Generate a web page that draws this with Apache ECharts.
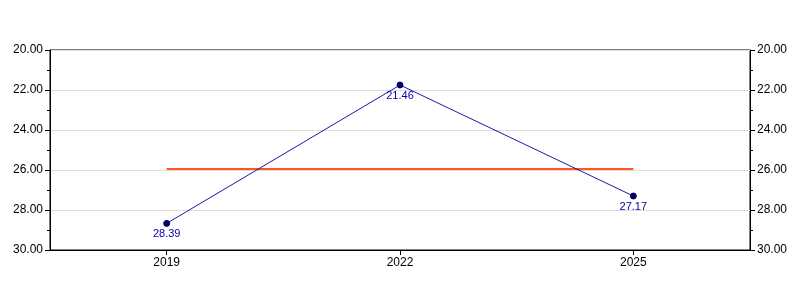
<!DOCTYPE html>
<html>
<head>
<meta charset="utf-8">
<script src="https://cdn.jsdelivr.net/npm/echarts@6/dist/echarts.min.js"></script>
<style>html,body{margin:0;padding:0;background:#fff;}#c{width:800px;height:300px;}</style>
</head>
<body>
<div id="c"></div>
<script>
var categories = ['2019', '2022', '2025'];
var values = [28.67, 21.75, 27.3];
var valueLabels = ['28.39', '21.46', '27.17'];
var refValues = [25.95, 25.95, 25.95];
var yMin = 20, yMax = 30, yStep = 2;

var font = 'Liberation Sans, Arial, sans-serif';
function yAxisCfg(pos, showSplit) {
  return {
    type: 'value', position: pos, inverse: true, min: yMin, max: yMax, interval: yStep,
    axisLine: { show: true, lineStyle: { color: '#000', width: 1 } },
    axisTick: { show: true, inside: false, length: 5, lineStyle: { color: '#000' } },
    minorTick: { show: true, splitNumber: 2, length: 3, lineStyle: { color: '#000' } },
    axisLabel: { color: '#000', fontSize: 12, fontFamily: font, margin: 7,
      formatter: function (v) { return v.toFixed(2); } },
    splitLine: { show: showSplit, lineStyle: { color: '#dcdcdc', width: 1 } }
  };
}
var chart = echarts.init(document.getElementById('c'), null, { renderer: 'canvas' });
chart.setOption({
  animation: false,
  backgroundColor: '#fff',
  grid: { left: 50, right: 50, top: 50, bottom: 50, show: true, borderColor: '#000', borderWidth: 1, backgroundColor: 'transparent' },
  xAxis: {
    type: 'category', data: categories, boundaryGap: true,
    axisLine: { show: true, lineStyle: { color: '#000' } },
    axisTick: { show: true, alignWithLabel: true, length: 5, lineStyle: { color: '#000' } },
    axisLabel: { color: '#000', fontSize: 12, fontFamily: font, margin: 7 },
    splitLine: { show: false }
  },
  yAxis: [yAxisCfg('left', true), yAxisCfg('right', false)],
  series: [
    {
      type: 'line', data: refValues, yAxisIndex: 0, symbol: 'none',
      lineStyle: { color: '#ff5522', width: 2 }, z: 2
    },
    {
      type: 'line', data: values, yAxisIndex: 0,
      symbol: 'circle', symbolSize: 6,
      itemStyle: { color: '#000066', borderColor: '#000066' },
      lineStyle: { color: '#1a1aaa', width: 1 },
      label: { show: true, position: 'bottom', distance: 2, color: '#0000aa', fontSize: 11, fontFamily: font,
        formatter: function (p) { return valueLabels[p.dataIndex]; } },
      z: 3
    }
  ]
});
</script>
</body>
</html>
